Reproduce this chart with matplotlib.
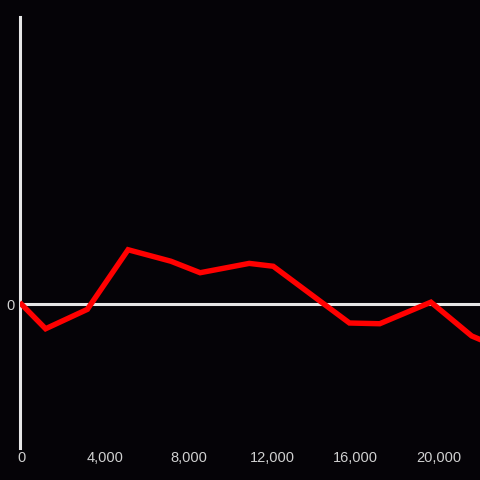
import matplotlib
matplotlib.use("Agg")
import matplotlib.pyplot as plt
from matplotlib.ticker import FuncFormatter

# data
x_vals = [0, 1150, 3150, 5100, 7150, 8550, 10900, 12050, 15700, 17150, 19600, 21550, 22200]
y_vals = [0, -17, -3.5, 38, 30, 22, 28.5, 26.5, -13, -13.5, 1.5, -22, -26]
x_ticks = [0, 4000, 8000, 12000, 16000, 20000]

bg = '#050307'
fg = '#d0d0d0'

fig = plt.figure(figsize=(4.8, 4.8), dpi=100, facecolor=bg)
ax = fig.add_axes([20 / 480, 32 / 480, 460 / 480, 431 / 480])
ax.set_facecolor(bg)

ax.axhline(0, color='#e6e6e6', linewidth=2.2, zorder=1)
ax.plot(x_vals, y_vals, color='#ff0000', linewidth=3.9, solid_joinstyle='miter',
        zorder=3, clip_on=True)

ax.set_xlim(-75, 21950)
ax.set_ylim(-100, 200)

for s in ('top', 'right', 'bottom'):
    ax.spines[s].set_visible(False)
ax.spines['left'].set_color('#e6e6e6')
ax.spines['left'].set_linewidth(2.2)
ax.spines['left'].set_position(('data', -75))

ax.set_xticks(x_ticks)
ax.xaxis.set_major_formatter(FuncFormatter(lambda v, p: f"{int(v):,}"))
ax.set_yticks([0])
ax.tick_params(axis='both', length=0, colors=fg, labelsize=10.5)
ax.tick_params(axis='x', pad=2)
ax.tick_params(axis='y', pad=4)
for lbl in ax.get_xticklabels() + ax.get_yticklabels():
    lbl.set_family(['Liberation Sans', 'DejaVu Sans'])

fig.savefig('out.png', dpi=100, facecolor=bg)
